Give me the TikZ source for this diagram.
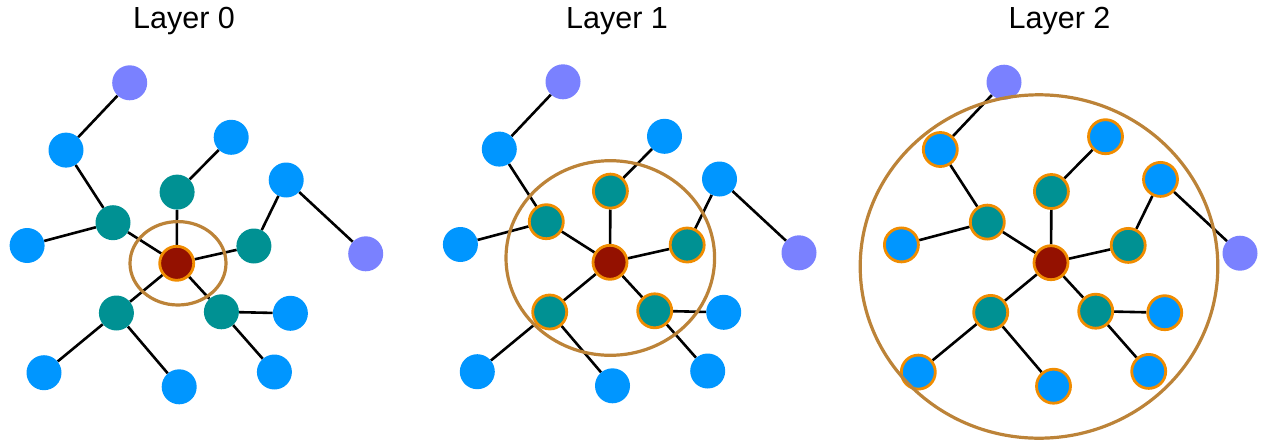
\documentclass[tikz,border=0pt]{standalone}
\usepackage{fontspec}
\setmainfont{Liberation Sans}
\definecolor{cblue}{RGB}{0,150,255}
\definecolor{cteal}{RGB}{0,145,147}
\definecolor{cred}{RGB}{148,17,0}
\definecolor{cpurple}{RGB}{122,129,255}
\definecolor{corange}{RGB}{240,140,0}
\definecolor{cring}{RGB}{188,131,56}
\tikzset{
  vtx/.style={circle,inner sep=0pt,minimum size=35pt},
  plain/.style={vtx,draw=none},
  outl/.style={vtx,draw=corange,line width=2.8pt,minimum size=34pt},
  edge/.style={draw=black,line width=2.6pt},
  ring/.style={draw=cring,line width=3.2pt},
  title/.style={font=\fontsize{30.5}{36}\selectfont,anchor=base,inner sep=0pt}
}
\newcommand{\graphpanel}[5]{%
  % #1 prefix, #2 shift, #3 center style, #4 teal style, #5 blue style
  \begin{scope}[shift={#2}]
    \node[#3,fill=cred] (#1c) at (0,0) {};
    \node[plain,fill=cpurple] (#1pt) at (-47,-180.5) {};
    \node[#5,fill=cblue] (#1bA) at (-110.7,-113.2) {};
    \node[#5,fill=cblue] (#1bB) at (54.5,-126) {};
    \node[#4,fill=cteal] (#1tT) at (0.4,-71.2) {};
    \node[#5,fill=cblue] (#1bC) at (109.5,-83.3) {};
    \node[#4,fill=cteal] (#1tL) at (-63.7,-40.6) {};
    \node[#5,fill=cblue] (#1bL) at (-149.6,-17.8) {};
    \node[#4,fill=cteal] (#1tR) at (77.2,-17.3) {};
    \node[plain,fill=cpurple] (#1pR) at (189,-9.5) {};
    \node[#4,fill=cteal] (#1tBL) at (-60.3,49.7) {};
    \node[#4,fill=cteal] (#1tBR) at (44.7,48.5) {};
    \node[#5,fill=cblue] (#1bBRa) at (113.7,50) {};
    \node[#5,fill=cblue] (#1bBL) at (-132.7,109.4) {};
    \node[#5,fill=cblue] (#1bBot) at (2.5,123.5) {};
    \node[#5,fill=cblue] (#1bBRb) at (97.7,108.7) {};
    \begin{scope}[on background layer]
      \draw[edge] (#1pt) -- (#1bA);
      \draw[edge] (#1bA) -- (#1tL);
      \draw[edge] (#1tL) -- (#1bL);
      \draw[edge] (#1tL) -- (#1c);
      \draw[edge] (#1tT) -- (#1c);
      \draw[edge] (#1tT) -- (#1bB);
      \draw[edge] (#1tR) -- (#1c);
      \draw[edge] (#1tR) -- (#1bC);
      \draw[edge] (#1bC) -- (#1pR);
      \draw[edge] (#1tBL) -- (#1c);
      \draw[edge] (#1tBL) -- (#1bBL);
      \draw[edge] (#1tBL) -- (#1bBot);
      \draw[edge] (#1tBR) -- (#1c);
      \draw[edge] (#1tBR) -- (#1bBRa);
      \draw[edge] (#1tBR) -- (#1bBRb);
    \end{scope}
  \end{scope}%
}
\usetikzlibrary{backgrounds}
\begin{document}
\begin{tikzpicture}[x=1pt,y=-1pt]
\useasboundingbox (0,0) rectangle (1268,439);
\node[title] (t0) at (184,28) {Layer 0};
\node[title] (t1) at (617,28) {Layer 1};
\node[title] (t2) at (1059.5,28) {Layer 2};
\graphpanel{a}{(176.7,263.3)}{outl}{plain}{plain}
\graphpanel{b}{(610,262.3)}{outl}{outl}{plain}
\graphpanel{d}{(1051,262.7)}{outl}{outl}{outl}
\draw[ring] (178,263.3) ellipse [x radius=48,y radius=41.7];
\draw[ring] (610.3,258) ellipse [x radius=104.3,y radius=97.3];
\draw[ring] (1039,266.5) ellipse [x radius=178.8,y radius=171.7];
\end{tikzpicture}
\end{document}
